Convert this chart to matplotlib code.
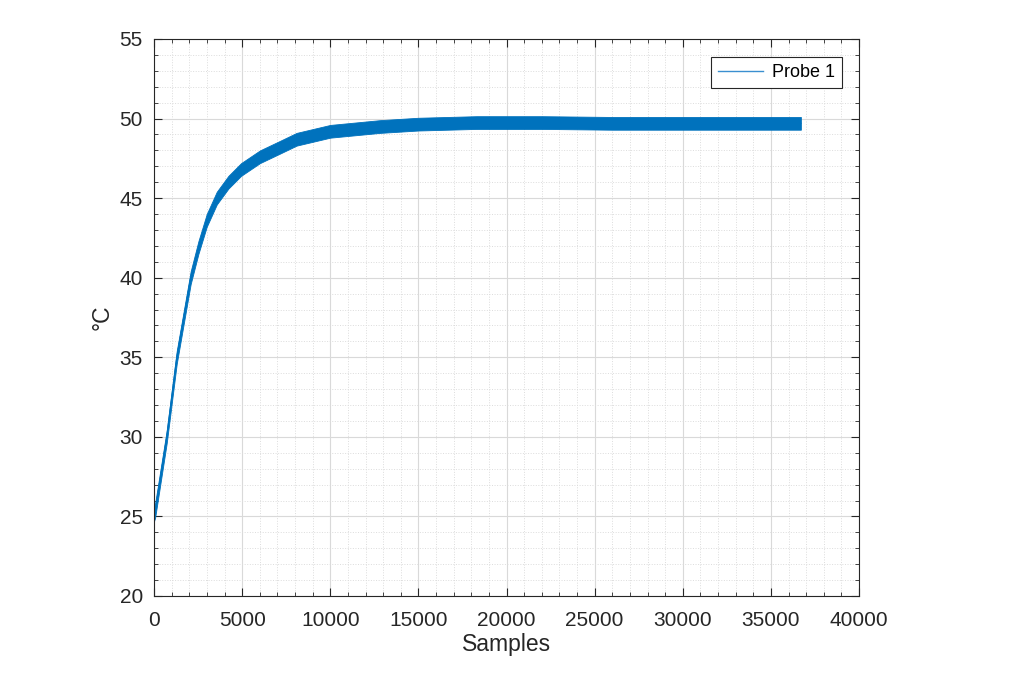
import matplotlib.pyplot as plt
from matplotlib.ticker import MultipleLocator

plt.rcParams['font.family'] = ['Liberation Sans', 'DejaVu Sans']

# values (sample index -> temperature)
samples = [0, 60, 720, 1290, 2080, 2520, 2990, 3560, 4220, 4940, 6010,
           7150, 8090, 10000, 12820, 15000, 18310, 22000, 26000, 30000,
           33000, 36700]
temp_mean = [25.0, 25.3, 30.0, 35.0, 40.0, 41.9, 43.6, 45.0, 46.0, 46.8, 47.6,
             48.2, 48.7, 49.2, 49.5, 49.65, 49.75, 49.75, 49.7, 49.7,
             49.7, 49.7]
temp_upper = [25.6, 25.8, 30.4, 35.4, 40.4, 42.3, 44.0, 45.4, 46.4, 47.2, 48.0,
              48.6, 49.1, 49.6, 49.9, 50.05, 50.15, 50.15, 50.1, 50.1,
              50.1, 50.1]
temp_lower = [24.7, 24.9, 29.6, 34.6, 39.6, 41.5, 43.2, 44.6, 45.6, 46.4, 47.2,
              47.8, 48.3, 48.8, 49.1, 49.25, 49.35, 49.35, 49.3, 49.3,
              49.3, 49.3]

blue = '#0072BD'
fig = plt.figure(figsize=(10.24, 6.83), dpi=100)
ax = fig.add_axes([0.1504, 0.1274, 0.6885, 0.8155])

ax.fill_between(samples, temp_lower, temp_upper, color=blue, linewidth=0.6)
ax.plot(samples, temp_mean, color=blue, linewidth=0.8, label='Probe 1')

ax.set_xlim(0, 40000)
ax.set_ylim(20, 55)
ax.xaxis.set_major_locator(MultipleLocator(5000))
ax.xaxis.set_minor_locator(MultipleLocator(1000))
ax.yaxis.set_major_locator(MultipleLocator(5))
ax.yaxis.set_minor_locator(MultipleLocator(1))

ax.grid(which='major', color='#d9d9d9', linewidth=0.8)
ax.grid(which='minor', color='#dcdcdc', linewidth=0.7, linestyle=':')
ax.set_axisbelow(True)

ax.tick_params(which='both', direction='in', top=True, right=True,
               colors='#262626', labelsize=15)
ax.tick_params(which='major', length=6)
ax.tick_params(which='minor', length=3)
ax.tick_params(axis='x', which='major', pad=11)
ax.tick_params(axis='y', which='major', pad=8)
for s in ax.spines.values():
    s.set_color('#262626')
    s.set_linewidth(0.8)

ax.set_xlabel('Samples', fontsize=16.5, color='#262626', labelpad=2)
ax.set_ylabel('°C', fontsize=16.5, color='#262626', labelpad=4)

leg = ax.legend(loc='upper right', fontsize=13, fancybox=False,
                edgecolor='#262626', framealpha=1, handlelength=2.5,
                handletextpad=0.5, borderaxespad=0,
                bbox_to_anchor=(0.976, 0.968))
leg.get_frame().set_linewidth(0.8)
for h in leg.get_lines():
    h.set_color('#3a8fd0')
    h.set_linewidth(1.0)

fig.savefig('out.png', dpi=100)
